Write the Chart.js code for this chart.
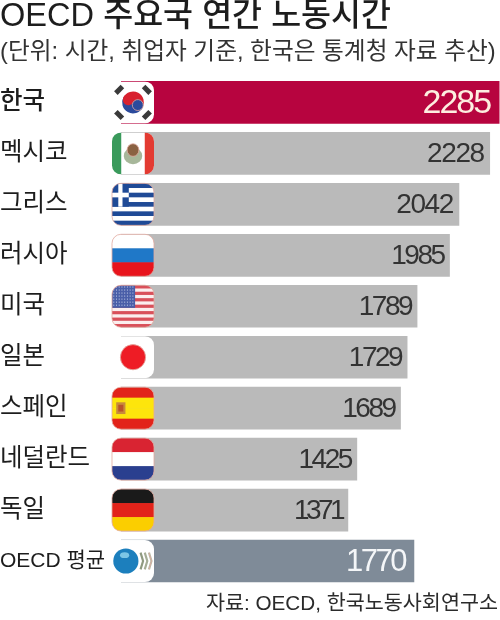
<!DOCTYPE html>
<html>
<head>
<meta charset="utf-8">
<style>
  html, body { margin: 0; padding: 0; background: #fff; }
  canvas { display: block; }
</style>
<script src="https://cdn.jsdelivr.net/npm/chart.js@4"></script>
</head>
<body>
<canvas id="hoursChart" width="500" height="620"></canvas>
<script>
const titleText = "OECD 주요국 연간 노동시간";
const subtitleText = "(단위: 시간, 취업자 기준, 한국은 통계청 자료 추산)";
const sourceText = "자료: OECD, 한국노동사회연구소";
const countries = ["한국", "멕시코", "그리스", "러시아", "미국", "일본", "스페인", "네덜란드", "독일", "OECD 평균"];
const hours = [2285, 2228, 2042, 1985, 1789, 1729, 1689, 1425, 1371, 1770];
const flags = ["kr", "mx", "gr", "ru", "us", "jp", "es", "nl", "de", "oecd"];
const barColors = ["#b7043f", "#bababa", "#bababa", "#bababa", "#bababa", "#bababa", "#bababa", "#bababa", "#bababa", "#7f8b98"];
const valueColors = ["#fdeee0", "#333333", "#333333", "#333333", "#333333", "#333333", "#333333", "#333333", "#333333", "#f4f6f8"];

const latinKr = '"Liberation Sans", "Noto Sans CJK KR", sans-serif';

function stripes(c, w, h, cols) {
  cols.forEach((col, i) => {
    c.fillStyle = col;
    c.fillRect(0, h * i / cols.length, w, h / cols.length + 0.5);
  });
}

// each painter draws in a w x h box, clipped by the caller
const flagPainters = {
  kr(c, w, h) {
    c.fillStyle = "#fff"; c.fillRect(0, 0, w, h);
    const r = h * 0.26;
    c.save();
    c.translate(w / 2, h / 2);
    c.rotate(0.5);
    c.fillStyle = "#d8212f";
    c.beginPath(); c.arc(0, 0, r, Math.PI, 0); c.fill();
    c.fillStyle = "#2b4a9c";
    c.beginPath(); c.arc(0, 0, r, 0, Math.PI); c.fill();
    c.fillStyle = "#d8212f";
    c.beginPath(); c.arc(-r / 2, 0, r / 2, 0, Math.PI * 2); c.fill();
    c.fillStyle = "#2b4a9c";
    c.beginPath(); c.arc(r / 2, 0, r / 2, 0, Math.PI * 2); c.fill();
    c.restore();
    c.fillStyle = "#3a3a3a";
    [[0.17, 0.2, -1], [0.83, 0.2, 1], [0.17, 0.8, 1], [0.83, 0.8, -1]].forEach(p => {
      c.save();
      c.translate(w * p[0], h * p[1]);
      c.rotate(p[2] * Math.PI / 4);
      c.fillRect(-w * 0.11, -h * 0.06, w * 0.22, h * 0.12);
      c.restore();
    });
  },
  mx(c, w, h) {
    c.fillStyle = "#fff"; c.fillRect(0, 0, w, h);
    c.fillStyle = "#3a9a5b"; c.fillRect(0, 0, w * 0.22, h);
    c.fillStyle = "#e33b32"; c.fillRect(w * 0.78, 0, w * 0.22, h);
    c.fillStyle = "#a7b79a";
    c.beginPath(); c.ellipse(w / 2, h * 0.56, w * 0.22, h * 0.2, 0, 0, Math.PI * 2); c.fill();
    c.fillStyle = "#8a6242";
    c.beginPath(); c.ellipse(w / 2, h * 0.42, w * 0.14, h * 0.15, 0, 0, Math.PI * 2); c.fill();
  },
  gr(c, w, h) {
    stripes(c, w, h, ["#1f4a96", "#fff", "#1f4a96", "#fff", "#1f4a96", "#fff", "#1f4a96", "#fff", "#1f4a96"]);
    c.fillStyle = "#1f4a96"; c.fillRect(0, 0, w * 0.4, h * 5 / 9);
    c.fillStyle = "#fff";
    c.fillRect(w * 0.15, 0, w * 0.1, h * 5 / 9);
    c.fillRect(0, h * 2 / 9, w * 0.4, h / 9);
  },
  ru(c, w, h) { stripes(c, w, h, ["#fff", "#1f78c8", "#e8141c"]); },
  us(c, w, h) {
    stripes(c, w, h, ["#d9505a", "#fbeeee", "#d9505a", "#fbeeee", "#d9505a", "#fbeeee", "#d9505a", "#fbeeee", "#d9505a", "#fbeeee", "#d9505a", "#fbeeee", "#d9505a"]);
    c.fillStyle = "#4a5ea8"; c.fillRect(0, 0, w * 0.55, h * 7 / 13);
    c.fillStyle = "#c9d0ea";
    for (let i = 0; i < 7; i++) for (let j = 0; j < 8; j++) {
      c.fillRect(w * (0.03 + j * 0.065), h * (0.03 + i * 0.072), 1, 1);
    }
  },
  jp(c, w, h) {
    c.fillStyle = "#fff"; c.fillRect(0, 0, w, h);
    c.fillStyle = "#ee1c25";
    c.beginPath(); c.arc(w / 2, h / 2, h * 0.3, 0, Math.PI * 2); c.fill();
  },
  es(c, w, h) {
    stripes(c, w, h, ["#e2231a", "#fde50c", "#fde50c", "#e2231a"]);
    c.fillStyle = "#c88a3c"; c.fillRect(w * 0.1, h * 0.36, w * 0.22, h * 0.28);
    c.fillStyle = "#b8532a"; c.fillRect(w * 0.15, h * 0.42, w * 0.12, h * 0.16);
  },
  nl(c, w, h) { stripes(c, w, h, ["#d92432", "#fff", "#2a3f8f"]); },
  de(c, w, h) { stripes(c, w, h, ["#1a1a1a", "#e2231a", "#fbce00"]); },
  oecd(c, w, h) {
    c.fillStyle = "#fff"; c.fillRect(0, 0, w, h);
    c.fillStyle = "#1c7fbd";
    c.beginPath(); c.arc(w * 0.33, h / 2, h * 0.3, 0, Math.PI * 2); c.fill();
    c.fillStyle = "#7cc6e6";
    c.beginPath(); c.ellipse(w * 0.3, h * 0.36, w * 0.11, h * 0.07, 0, 0, Math.PI * 2); c.fill();
    c.lineWidth = 2.2;
    [["#8f9a80", 0.74], ["#a5ad96", 0.84], ["#b6bca8", 0.94]].forEach(s => {
      c.strokeStyle = s[0];
      c.beginPath();
      c.moveTo(w * (s[1] - 0.06), h * 0.3);
      c.lineTo(w * s[1], h * 0.5);
      c.lineTo(w * (s[1] - 0.06), h * 0.7);
      c.stroke();
    });
  }
};

const flagPlugin = {
  id: "flagPlugin",
  afterDatasetsDraw(chart) {
    const c = chart.ctx, meta = chart.getDatasetMeta(0);
    const w = 42, h = 42;
    meta.data.forEach((bar, i) => {
      const x = chart.scales.x.left - 9, y = bar.y - h / 2;
      c.save();
      c.beginPath();
      c.roundRect(x, y, w, h, 9);
      c.save();
      c.clip();
      c.translate(x, y);
      flagPainters[flags[i]](c, w, h);
      c.restore();
      c.strokeStyle = "rgba(226, 170, 160, 0.8)";
      c.lineWidth = 1;
      c.stroke();
      c.restore();
    });
  }
};

const valuePlugin = {
  id: "valuePlugin",
  afterDatasetsDraw(chart) {
    const c = chart.ctx, meta = chart.getDatasetMeta(0);
    c.save();
    c.textAlign = "right";
    c.textBaseline = "middle";
    meta.data.forEach((bar, i) => {
      const big = i === 0 || i === 9;
      const label = String(hours[i]);
      // the reference set has a narrow 1, so tighten numbers that contain it
      const ones = label.split("1").length - 1;
      c.font = (i === 0 ? 34 : big ? 31 : 28) + "px " + latinKr;
      c.letterSpacing = (i === 0 ? -2 : -1.4 - ones * 1.1) + "px";
      c.fillStyle = valueColors[i];
      c.fillText(label, bar.x - (big ? 9 : 6), bar.y + 1);
    });
    c.restore();
  }
};

const sourcePlugin = {
  id: "sourcePlugin",
  afterDraw(chart) {
    const c = chart.ctx;
    c.save();
    c.font = "20.7px " + latinKr;
    c.fillStyle = "#2b2b2b";
    c.textAlign = "right";
    c.textBaseline = "middle";
    c.fillText(sourceText, chart.width - 2, chart.chartArea.bottom + 18);
    c.restore();
  }
};

new Chart(document.getElementById("hoursChart").getContext("2d"), {
  type: "bar",
  data: {
    labels: countries,
    datasets: [{
      data: hours,
      backgroundColor: barColors,
      borderWidth: 0,
      barThickness: 42
    }]
  },
  options: {
    indexAxis: "y",
    responsive: false,
    animation: false,
    layout: { padding: { bottom: 33.5 } },
    plugins: {
      legend: { display: false },
      tooltip: { enabled: false },
      title: {
        display: true,
        text: titleText,
        align: "start",
        color: "#1d1d1d",
        font: { family: latinKr, size: 32.6, weight: "500", lineHeight: 1.05 },
        padding: { top: 0, bottom: 0 }
      },
      subtitle: {
        display: true,
        text: subtitleText,
        align: "start",
        color: "#333333",
        font: { family: latinKr, size: 23.7, weight: "400", lineHeight: 1.2 },
        padding: { top: 3.9, bottom: 10.4 }
      }
    },
    scales: {
      x: {
        display: false,
        min: 0,
        max: 2290
      },
      y: {
        afterFit(scale) { scale.width = 121; },
        grid: { display: false },
        border: { display: false },
        ticks: {
          crossAlign: "far",
          padding: 0,
          autoSkip: false,
          color: "#1d1d1d",
          font(ctx) {
            if (ctx.index === 0) return { family: latinKr, size: 24.5, weight: "500" };
            if (ctx.index === 9) return { family: latinKr, size: 21, weight: "400" };
            return { family: latinKr, size: 24.5, weight: "400" };
          }
        }
      }
    }
  },
  plugins: [flagPlugin, valuePlugin, sourcePlugin]
});
</script>
</body>
</html>
